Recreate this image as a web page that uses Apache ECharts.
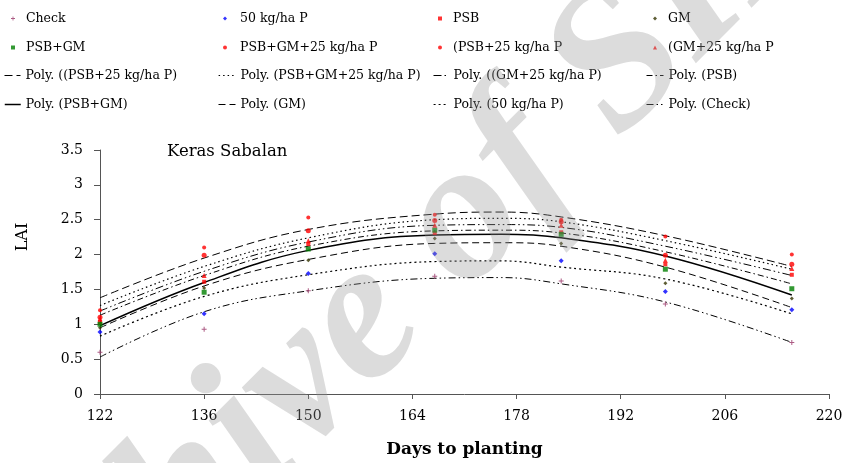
<!DOCTYPE html>
<html><head><meta charset="utf-8">
<script src="https://cdn.jsdelivr.net/npm/echarts@6/dist/echarts.min.js"></script>
<style>html,body{margin:0;padding:0;background:#fff}#c{width:846px;height:463px}</style>
</head><body><div id="c"></div>
<script>
// ---- data ----
const days = [122, 136, 150, 167, 184, 198, 215];
const xTickLabels = [122, 136, 150, 164, 178, 192, 206, 220];
const yTickLabels = [0, 0.5, 1, 1.5, 2, 2.5, 3, 3.5];

const check   = [0.60, 0.93, 1.48, 1.69, 1.62, 1.29, 0.74];
const p50     = [0.89, 1.15, 1.73, 2.01, 1.91, 1.47, 1.21];
const psb     = [1.03, 1.61, 2.15, 2.31, 2.32, 1.86, 1.71];
const gm      = [0.95, 1.52, 1.92, 2.23, 2.16, 1.59, 1.37];
const psbGm   = [1.00, 1.46, 2.08, 2.35, 2.29, 1.79, 1.51];
const psbGm25 = [1.10, 1.99, 2.34, 2.49, 2.47, 1.99, 1.86];
const psb25   = [1.20, 2.10, 2.53, 2.57, 2.50, 2.26, 2.00];
const gm25    = [1.08, 1.70, 2.20, 2.42, 2.42, 1.92, 1.80];

// trend curves, values
const trendDays = [122, 136, 150, 167, 176, 184, 198, 215];
const tPsb25   = [1.38, 1.95, 2.36, 2.58, 2.61, 2.54, 2.27, 1.83];
const tPsbGm25 = [1.27, 1.83, 2.24, 2.50, 2.52, 2.47, 2.20, 1.79];
const tGm25    = [1.19, 1.76, 2.18, 2.42, 2.43, 2.39, 2.12, 1.70];
const tPsb     = [1.13, 1.70, 2.12, 2.34, 2.35, 2.31, 2.04, 1.58];
const tPsbGm   = [0.98, 1.60, 2.06, 2.28, 2.29, 2.24, 1.98, 1.42];
const tGm      = [0.95, 1.55, 1.93, 2.16, 2.17, 2.12, 1.82, 1.24];
const tP50     = [0.83, 1.40, 1.71, 1.90, 1.91, 1.82, 1.65, 1.15];
const tCheck   = [0.53, 1.18, 1.48, 1.66, 1.67, 1.58, 1.32, 0.74];

const legendRows = [
  ['Check', '50 kg/ha P', 'PSB', 'GM'],
  ['PSB+GM', 'PSB+GM+25 kg/ha P', '(PSB+25 kg/ha P', '(GM+25 kg/ha P'],
  ['Poly. ((PSB+25 kg/ha P)', 'Poly. (PSB+GM+25 kg/ha P)', 'Poly. ((GM+25 kg/ha P)', 'Poly. (PSB)'],
  ['Poly. (PSB+GM)', 'Poly. (GM)', 'Poly. (50 kg/ha P)', 'Poly. (Check)']
];

// ---- styling ----
const plusPath = 'path://M4,0H6V4H10V6H6V10H4V6H0V4H4Z';
const points = [
  {name: 'Check', v: check, color: '#993366', symbol: plusPath, size: 5},
  {name: '50 kg/ha P', v: p50, color: '#0000ff', symbol: 'diamond', size: 5},
  {name: 'PSB', v: psb, color: '#ff0000', symbol: 'rect', size: 4},
  {name: 'GM', v: gm, color: '#333300', symbol: 'diamond', size: 4},
  {name: 'PSB+GM', v: psbGm, color: '#008000', symbol: 'rect', size: 5},
  {name: 'PSB+GM+25 kg/ha P', v: psbGm25, color: '#ff0000', symbol: 'circle', size: 5},
  {name: '(PSB+25 kg/ha P', v: psb25, color: '#ff0000', symbol: 'circle', size: 4},
  {name: '(GM+25 kg/ha P', v: gm25, color: '#ff0000', symbol: 'triangle', size: 5}
];
const trends = [
  {name: 'Poly. ((PSB+25 kg/ha P)', v: tPsb25, type: [8, 4], w: 1},
  {name: 'Poly. (PSB+GM+25 kg/ha P)', v: tPsbGm25, type: [1.5, 3], w: 1.2},
  {name: 'Poly. ((GM+25 kg/ha P)', v: tGm25, type: [8, 3, 1.5, 3, 1.5, 3], w: 1},
  {name: 'Poly. (PSB)', v: tPsb, type: [6, 3, 1.5, 3], w: 1},
  {name: 'Poly. (PSB+GM)', v: tPsbGm, type: 'solid', w: 1.5},
  {name: 'Poly. (GM)', v: tGm, type: [7, 4], w: 1},
  {name: 'Poly. (50 kg/ha P)', v: tP50, type: [2, 3], w: 1.2},
  {name: 'Poly. (Check)', v: tCheck, type: [7, 3, 1.5, 3, 1.5, 3], w: 1}
];

const serif = 'DejaVu Serif';
const series = [];
trends.forEach(t => series.push({
  name: t.name, type: 'line', smooth: 0.4, symbol: 'none', z: 2, silent: true,
  data: trendDays.map((d, i) => [d, t.v[i]]),
  itemStyle: {color: '#000'},
  lineStyle: {color: '#000', width: t.w, type: t.type}
}));
points.forEach(p => series.push({
  name: p.name, type: 'scatter', symbol: p.symbol, symbolSize: p.size, z: 3, silent: true,
  data: days.map((d, i) => [d, p.v[i]]),
  itemStyle: {color: p.color}
}));

const rowY = [19, 48, 76, 105];
const markerCX = [13, 225, 440, 655];
const lineLeft = [4, 218, 433, 646];
const lineW = [16, 17, 15, 17];
const textX = [26, 240, 453, 668];
const legends = [];
const legendFont = {fontFamily: serif, fontSize: 12.5, color: '#000'};
legendRows.forEach((row, r) => row.forEach((name, c) => {
  if (r < 2) {
    const ms = 4, left = markerCX[c] - ms / 2;
    legends.push({
      data: [name], left: left, top: rowY[r] - 7, padding: 0,
      itemWidth: ms, itemHeight: ms, selectedMode: false,
      textStyle: Object.assign({padding: [0, 0, 0, textX[c] - (left + ms + 5)]}, legendFont)
    });
  } else {
    const t = trends.find(tr => tr.name === name);
    legends.push({
      data: [name], left: lineLeft[c], top: rowY[r] - 7, padding: 0,
      itemWidth: lineW[c], itemHeight: 6, selectedMode: false,
      itemStyle: {opacity: 0},
      lineStyle: {width: t.w, color: '#000'},
      textStyle: legendFont
    });
  }
}));

const axisCol = '#555';
const wmAngle = 45 * Math.PI / 180;
const chart = echarts.init(document.getElementById('c'));
chart.setOption({
  animation: false,
  backgroundColor: '#fff',
  title: {text: 'Keras Sabalan', left: 167, top: 143, padding: 0,
    textStyle: {fontFamily: serif, fontSize: 16.5, fontWeight: 'normal', color: '#000'}},
  legend: legends,
  grid: {left: 100, right: 17, top: 150, bottom: 67, containLabel: false},
  xAxis: {
    type: 'value', min: xTickLabels[0], max: xTickLabels[xTickLabels.length - 1], interval: 14,
    name: 'Days to planting', nameLocation: 'middle', nameGap: 47,
    nameTextStyle: {fontFamily: serif, fontSize: 17, fontWeight: 'bold', color: '#000'},
    axisLine: {show: true, lineStyle: {color: axisCol, width: 1}},
    axisTick: {show: true, length: 5, lineStyle: {color: axisCol}},
    axisLabel: {fontFamily: serif, fontSize: 14, color: '#000', margin: 15},
    splitLine: {show: false}
  },
  yAxis: {
    type: 'value', min: yTickLabels[0], max: yTickLabels[yTickLabels.length - 1], interval: 0.5,
    axisLine: {show: true, lineStyle: {color: axisCol, width: 1}},
    axisTick: {show: true, length: 6, lineStyle: {color: axisCol}},
    axisLabel: {fontFamily: serif, fontSize: 14, color: '#000', margin: 17},
    splitLine: {show: false}
  },
  graphic: [
    {type: 'text', x: 23, y: 237, rotation: Math.PI / 2, silent: true,
     style: {text: 'LAI', font: '16px "DejaVu Serif"', fill: '#000', align: 'center', verticalAlign: 'middle'}},
    {type: 'text', x: 378, y: 308, rotation: wmAngle, silent: true, z: 100,
     style: {text: 'Archive of SID', font: 'italic bold 200px "Liberation Serif"', fill: 'rgba(150,150,150,0.33)', align: 'center', verticalAlign: 'middle'}}
  ],
  series: series
});
</script></body></html>
